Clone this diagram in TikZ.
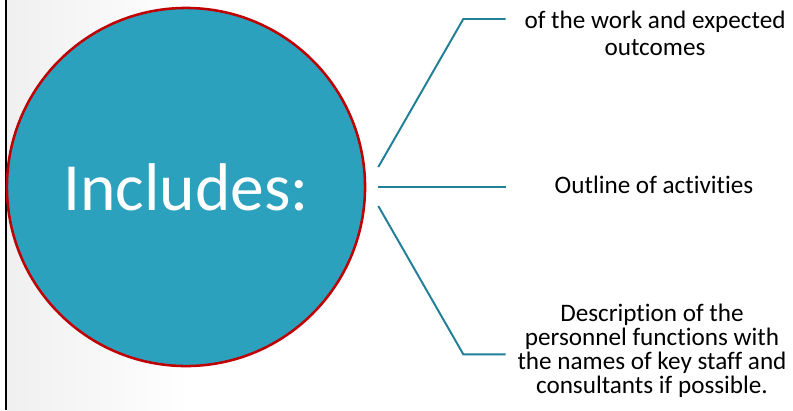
\documentclass[tikz,border=0pt]{standalone}
\usepackage{fontspec}
\setmainfont{Carlito}[Ligatures=NoCommon]
\usetikzlibrary{positioning}
\definecolor{bubblefill}{RGB}{44,161,190}
\definecolor{bubbleedge}{RGB}{192,0,0}
\definecolor{linkcol}{RGB}{33,128,152}
\tikzstyle{bubble} = [circle, inner sep=0pt, minimum size=8.95cm, fill=bubblefill, draw=bubbleedge, line width=1.8pt, text=white, font=\fontsize{48}{50}\selectfont]
\tikzstyle{item} = [inner sep=0pt, align=center, text=black, font=\fontsize{17.9}{17.1}\selectfont]
\tikzstyle{link} = [draw=linkcol, line width=1.4pt]

\begin{document}
\begin{tikzpicture}[x=0.025cm, y=-0.025cm]
	\useasboundingbox (0,0) rectangle (793,410);
	% faint slide shade and left rule
	\shade[left color=gray!12, right color=white] (7,0) rectangle (190,410);
	\draw[line width=1.6pt] (6.3,0) -- (6.3,410);

	\node (inc) [bubble] at (186,187) {Includes:};

	\node (goal) [item, font=\fontsize{17.9}{19.2}\selectfont] at (655,33) {of the work and expected\\outcomes};
	\node (acts) [item] at (654,185) {Outline of activities};
	\node (staff) [item] at (652,351) {Description of the\\personnel functions with\\the names of key staff and\\consultants if possible.};

	\coordinate (s1) at ([shift={(12,-20)}]inc.east);
	\coordinate (s2) at ([shift={(12,0)}]inc.east);
	\coordinate (s3) at ([shift={(12,19)}]inc.east);
	\coordinate (k1) at (463.3,19);
	\coordinate (k3) at (463.3,354.3);
	\coordinate (e1) at (505.7,19);
	\coordinate (e2) at (505.7,187);
	\coordinate (e3) at (505.7,354.3);

	\draw [link] (s1) -- (k1) -- (e1);
	\draw [link] (s2) -- (e2);
	\draw [link] (s3) -- (k3) -- (e3);
\end{tikzpicture}
\end{document}
